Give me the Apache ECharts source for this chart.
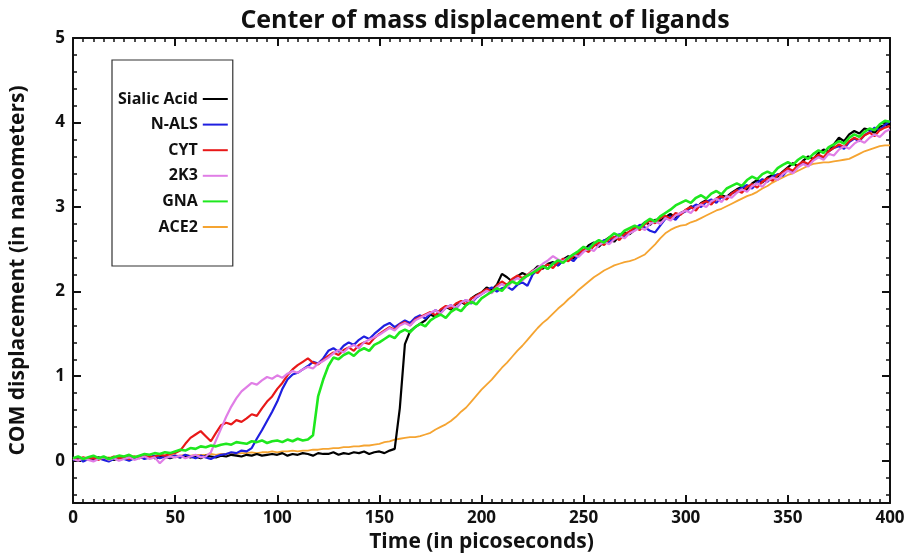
<!DOCTYPE html>
<html>
<head>
<meta charset="utf-8">
<script src="https://cdn.jsdelivr.net/npm/echarts@6/dist/echarts.min.js"></script>
<style>html,body{margin:0;padding:0;background:#fff}#c{width:910px;height:558px}</style>
</head>
<body>
<div id="c"></div>
<script>
// Time sampling: every 2.5 ps from 0 to 400
const timeStep = 2.5;
const timeCount = 161;

const seriesNames = ["Sialic Acid", "N-ALS", "CYT", "2K3", "GNA", "ACE2"];

const sialicAcid = [
0.02,0.03,0.01,0.03,0.02,0.04,0.02,0.03,0.01,0.03,
0.03,0.04,0.02,0.04,0.03,0.05,0.03,0.04,0.05,0.03,
0.05,0.04,0.06,0.04,0.05,0.03,0.06,0.05,0.04,0.06,
0.05,0.07,0.06,0.05,0.07,0.06,0.08,0.06,0.07,0.08,
0.07,0.09,0.06,0.08,0.07,0.09,0.08,0.06,0.09,0.08,
0.08,0.10,0.07,0.09,0.08,0.10,0.09,0.11,0.08,0.10,
0.11,0.09,0.12,0.14,0.62,1.38,1.53,1.58,1.62,1.66,
1.73,1.70,1.78,1.82,1.79,1.85,1.88,1.84,1.92,1.96,
1.99,2.05,2.02,2.08,2.21,2.17,2.12,2.18,2.22,2.19,
2.24,2.30,2.27,2.33,2.35,2.31,2.38,2.42,2.39,2.46,
2.48,2.55,2.58,2.53,2.60,2.64,2.59,2.66,2.70,2.68,
2.73,2.77,2.82,2.79,2.85,2.84,2.88,2.92,2.87,2.93,
2.96,3.01,2.98,3.05,3.08,3.04,3.10,3.14,3.12,3.17,
3.21,3.24,3.20,3.28,3.32,3.29,3.35,3.38,3.36,3.42,
3.47,3.52,3.48,3.55,3.60,3.57,3.64,3.68,3.66,3.74,
3.82,3.78,3.86,3.90,3.87,3.93,3.91,3.88,3.95,3.97,
3.98];

const nALS = [
0.01,0.03,-0.01,0.02,0.00,0.03,0.01,-0.01,0.02,0.04,
0.02,0.00,0.03,0.05,0.02,0.04,0.06,0.03,0.05,0.04,
0.06,0.04,0.07,0.05,0.03,0.06,0.04,0.02,0.05,0.07,
0.08,0.10,0.09,0.12,0.11,0.15,0.26,0.36,0.47,0.58,
0.70,0.85,0.96,1.02,1.04,1.08,1.12,1.17,1.15,1.21,
1.30,1.33,1.29,1.36,1.40,1.37,1.43,1.47,1.44,1.50,
1.55,1.60,1.63,1.58,1.62,1.66,1.63,1.69,1.72,1.68,
1.74,1.78,1.75,1.81,1.84,1.80,1.87,1.90,1.86,1.93,
1.97,2.01,2.05,2.00,2.04,2.06,2.02,2.08,2.11,2.07,
2.20,2.26,2.30,2.27,2.34,2.31,2.37,2.40,2.36,2.43,
2.49,2.52,2.57,2.55,2.61,2.58,2.64,2.68,2.65,2.71,
2.74,2.79,2.76,2.72,2.70,2.78,2.86,2.89,2.85,2.92,
2.95,2.99,3.03,3.00,3.06,3.09,3.05,3.12,3.10,3.16,
3.19,3.23,3.26,3.22,3.29,3.33,3.30,3.36,3.39,3.37,
3.44,3.41,3.49,3.53,3.50,3.56,3.61,3.58,3.66,3.70,
3.72,3.69,3.77,3.81,3.78,3.85,3.89,3.94,3.91,3.97,
4.02];

const cyt = [
0.03,0.01,0.04,0.02,0.03,0.01,0.04,0.02,0.05,0.03,
0.04,0.02,0.05,0.03,0.06,0.04,0.05,0.07,0.06,0.08,
0.09,0.12,0.20,0.27,0.31,0.35,0.29,0.23,0.33,0.42,
0.45,0.43,0.48,0.46,0.50,0.55,0.53,0.62,0.70,0.76,
0.85,0.92,1.01,1.08,1.13,1.17,1.21,1.16,1.14,1.19,
1.24,1.28,1.25,1.31,1.34,1.30,1.37,1.40,1.38,1.45,
1.50,1.54,1.58,1.55,1.61,1.64,1.60,1.67,1.70,1.73,
1.76,1.72,1.79,1.83,1.80,1.86,1.89,1.85,1.92,1.95,
1.99,2.03,2.00,2.07,2.12,2.08,2.15,2.19,2.16,2.20,
2.25,2.22,2.29,2.32,2.28,2.35,2.39,2.36,2.42,2.45,
2.50,2.47,2.54,2.58,2.55,2.62,2.65,2.61,2.68,2.71,
2.76,2.73,2.80,2.84,2.81,2.87,2.90,2.86,2.93,2.91,
2.97,3.00,2.96,3.04,3.07,3.03,3.10,3.13,3.09,3.16,
3.20,3.17,3.24,3.27,3.23,3.30,3.34,3.31,3.38,3.41,
3.46,3.43,3.50,3.54,3.51,3.58,3.62,3.59,3.66,3.70,
3.74,3.71,3.78,3.82,3.79,3.85,3.88,3.84,3.91,3.94,
3.96];

const k2K3 = [
0.02,0.00,0.03,0.01,-0.01,0.02,0.04,0.01,0.03,0.00,
0.02,0.04,0.01,0.03,0.05,0.02,0.04,-0.03,0.03,0.05,
0.04,0.06,0.03,0.05,0.07,0.04,0.05,0.10,0.24,0.38,
0.52,0.64,0.74,0.82,0.87,0.92,0.90,0.95,0.99,0.97,
1.01,0.98,1.03,1.06,1.04,1.08,1.11,1.09,1.15,1.18,
1.22,1.27,1.31,1.28,1.34,1.37,1.33,1.40,1.43,1.46,
1.49,1.53,1.57,1.54,1.60,1.63,1.60,1.66,1.69,1.72,
1.75,1.78,1.74,1.81,1.84,1.81,1.87,1.90,1.87,1.94,
1.97,2.01,1.98,2.05,2.09,2.05,2.12,2.16,2.13,2.19,
2.24,2.28,2.33,2.37,2.42,2.38,2.36,2.40,2.44,2.41,
2.47,2.51,2.48,2.55,2.59,2.56,2.62,2.66,2.63,2.69,
2.72,2.76,2.73,2.80,2.83,2.80,2.87,2.84,2.90,2.93,
2.96,2.93,3.00,3.03,3.00,3.07,3.10,3.06,3.13,3.11,
3.17,3.21,3.18,3.25,3.28,3.24,3.31,3.35,3.32,3.39,
3.43,3.40,3.47,3.51,3.48,3.55,3.59,3.56,3.63,3.61,
3.68,3.72,3.69,3.75,3.79,3.76,3.82,3.86,3.83,3.89,
3.92];

const gna = [
0.03,0.05,0.02,0.04,0.06,0.03,0.05,0.02,0.04,0.06,
0.05,0.07,0.04,0.06,0.08,0.07,0.09,0.08,0.10,0.09,
0.11,0.13,0.12,0.15,0.14,0.17,0.16,0.18,0.17,0.19,
0.20,0.19,0.22,0.21,0.20,0.23,0.22,0.24,0.21,0.23,
0.24,0.22,0.25,0.23,0.26,0.24,0.25,0.30,0.76,0.96,
1.12,1.22,1.20,1.25,1.28,1.24,1.30,1.33,1.30,1.37,
1.40,1.44,1.48,1.45,1.52,1.55,1.52,1.58,1.62,1.59,
1.66,1.70,1.73,1.69,1.76,1.80,1.77,1.84,1.88,1.85,
1.92,1.96,2.00,2.04,2.01,2.08,2.12,2.09,2.15,2.19,
2.22,2.26,2.30,2.27,2.33,2.37,2.34,2.40,2.44,2.48,
2.53,2.50,2.57,2.61,2.58,2.64,2.69,2.66,2.72,2.75,
2.78,2.75,2.82,2.86,2.83,2.89,2.93,2.97,3.02,3.05,
3.08,3.05,3.11,3.14,3.10,3.16,3.19,3.15,3.22,3.25,
3.28,3.25,3.32,3.36,3.33,3.39,3.42,3.39,3.46,3.50,
3.53,3.50,3.56,3.60,3.57,3.63,3.67,3.64,3.71,3.74,
3.78,3.75,3.82,3.86,3.83,3.89,3.93,3.91,3.98,4.02,
4.01];

const ace2 = [
0.02,0.02,0.03,0.02,0.03,0.03,0.03,0.04,0.03,0.04,
0.04,0.04,0.05,0.04,0.05,0.05,0.05,0.06,0.05,0.06,
0.06,0.06,0.07,0.06,0.07,0.07,0.07,0.08,0.07,0.08,
0.08,0.09,0.08,0.09,0.09,0.10,0.09,0.10,0.10,0.11,
0.10,0.11,0.11,0.12,0.11,0.12,0.12,0.13,0.13,0.14,
0.14,0.15,0.15,0.16,0.16,0.17,0.17,0.18,0.18,0.19,
0.20,0.22,0.23,0.25,0.26,0.27,0.28,0.28,0.29,0.31,
0.33,0.37,0.40,0.43,0.47,0.52,0.58,0.63,0.70,0.77,
0.84,0.90,0.96,1.03,1.10,1.16,1.23,1.30,1.36,1.43,
1.50,1.57,1.63,1.68,1.74,1.80,1.85,1.91,1.96,2.02,
2.07,2.12,2.17,2.21,2.25,2.28,2.31,2.33,2.35,2.36,
2.38,2.41,2.44,2.50,2.56,2.63,2.69,2.73,2.76,2.78,
2.79,2.82,2.84,2.87,2.90,2.93,2.96,2.98,3.01,3.04,
3.07,3.10,3.13,3.15,3.18,3.22,3.25,3.29,3.32,3.35,
3.38,3.40,3.43,3.46,3.49,3.51,3.52,3.53,3.53,3.54,
3.55,3.56,3.57,3.60,3.63,3.66,3.68,3.70,3.72,3.73,
3.73];

const seriesValues = [sialicAcid, nALS, cyt, k2K3, gna, ace2];
const seriesColors = ["#000000", "#1f1fe0", "#e81818", "#e07ee6", "#1ee81e", "#f5a431"];
const seriesWidths = [2.2, 2.2, 2.2, 2.2, 2.6, 1.8];

const xTicks = [0, 50, 100, 150, 200, 250, 300, 350, 400];
const yTicks = [0, 1, 2, 3, 4, 5];
const yMinorTicks = [-0.4, -0.2, 0.2, 0.4, 0.6, 0.8, 1.2, 1.4, 1.6, 1.8, 2.2, 2.4, 2.6, 2.8,
                     3.2, 3.4, 3.6, 3.8, 4.2, 4.4, 4.6, 4.8];

const times = [];
for (let i = 0; i < timeCount; i++) times.push(i * timeStep);

const FONT = "'Open Sans', 'Noto Sans', sans-serif";

const chart = echarts.init(document.getElementById('c'), null, {renderer: 'canvas'});

function yAx(pos, minor, showLabel, withName) {
  return {
    type: 'value', position: pos, min: -0.5, max: 5,
    axisLine: {show: !minor, onZero: false, lineStyle: {color: '#111', width: 2}},
    axisTick: {show: true, inside: true, length: minor ? 4 : 8,
      customValues: minor ? yMinorTicks : yTicks,
      lineStyle: {color: '#111', width: minor ? 1.5 : 2}},
    axisLabel: {show: showLabel, customValues: yTicks, color: '#111', fontFamily: FONT,
      fontWeight: 'bold', fontSize: 17, margin: 8},
    splitLine: {show: false},
    name: withName ? 'COM displacement (in nanometers)' : '',
    nameLocation: 'middle', nameGap: 44,
    nameTextStyle: {color: '#111', fontFamily: FONT, fontWeight: 'bold', fontSize: 21}
  };
}

function xAx(pos, showLabel, withName) {
  return {
    type: 'value', position: pos, min: 0, max: 400, interval: 50,
    axisLine: {show: true, onZero: false, lineStyle: {color: '#111', width: 2}},
    axisTick: {show: true, inside: true, length: 8, lineStyle: {color: '#111', width: 2}},
    minorTick: {show: true, splitNumber: 10, length: 4, lineStyle: {color: '#111', width: 1.5}},
    axisLabel: {show: showLabel, color: '#111', fontFamily: FONT, fontWeight: 'bold',
      fontSize: 17, margin: 7,
      customValues: xTicks},
    splitLine: {show: false}, minorSplitLine: {show: false},
    name: withName ? 'Time (in picoseconds)' : '',
    nameLocation: 'middle', nameGap: 29,
    nameTextStyle: {color: '#111', fontFamily: FONT, fontWeight: 'bold', fontSize: 21}
  };
}

const series = seriesNames.map((name, k) => ({
  name: name, type: 'line', xAxisIndex: 0, yAxisIndex: 0,
  symbol: 'none', smooth: false, animation: false,
  z: k === 5 ? 1 : 2 + k,
  lineStyle: {color: seriesColors[k], width: seriesWidths[k]},
  itemStyle: {color: seriesColors[k]},
  data: times.map((t, i) => [t, seriesValues[k][i]])
}));

chart.setOption({
  backgroundColor: '#ffffff',
  animation: false,
  title: {
    text: 'Center of mass displacement of ligands',
    left: 480, top: 3, textAlign: 'center',
    textStyle: {color: '#111', fontFamily: FONT, fontWeight: 'bold', fontSize: 25}
  },
  grid: {left: 72, right: 20, top: 38, bottom: 50, containLabel: false},
  legend: {
    show: true, orient: 'vertical', left: 112, top: 60, align: 'right',
    icon: 'path://M0,0 L25,0 L25,2 L0,2 Z',
    itemWidth: 25, itemHeight: 16, itemGap: 9.6,
    padding: [31, 5, 31, 6],
    borderColor: '#333', borderWidth: 1.2,
    textStyle: {color: '#111', fontFamily: FONT, fontWeight: 'bold', fontSize: 16},
    data: seriesNames
  },
  xAxis: [xAx('bottom', true, true), xAx('top', false, false)],
  yAxis: [yAx('left', false, true, true), yAx('left', true, false, false),
          yAx('right', false, false, false), yAx('right', true, false, false)],
  series: series
});
</script>
</body>
</html>
